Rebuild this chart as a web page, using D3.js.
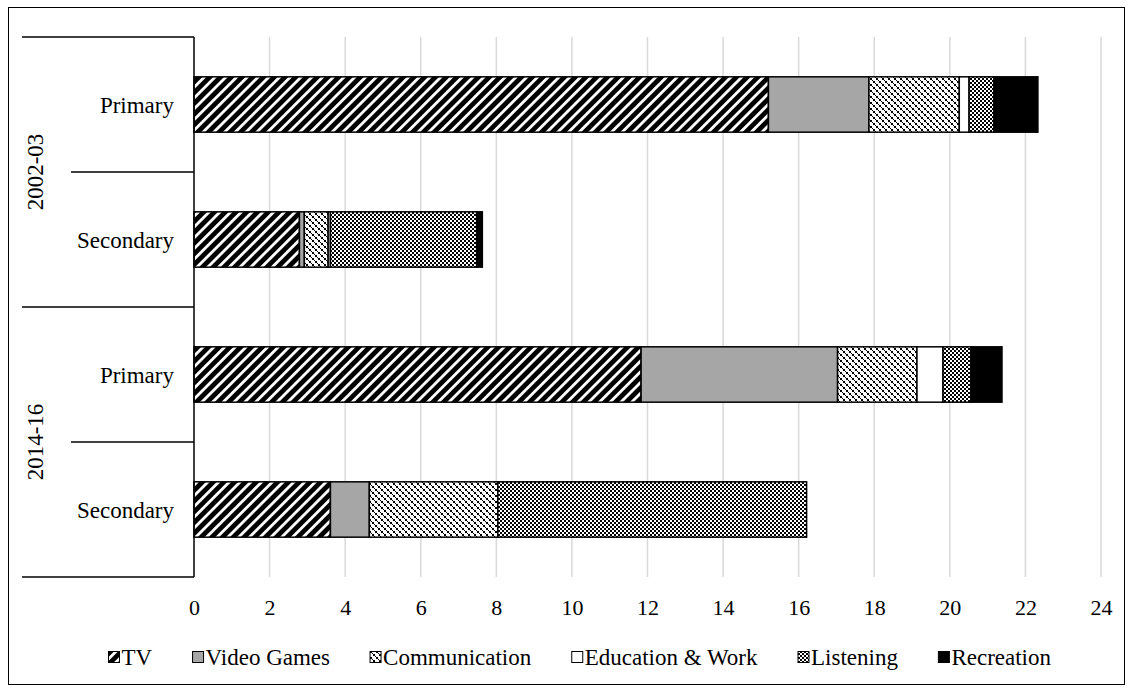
<!DOCTYPE html>
<html>
<head>
<meta charset="utf-8">
<script src="https://cdn.jsdelivr.net/npm/d3@7"></script>
<style>
  html, body { margin: 0; padding: 0; background: #fff; }
  svg { display: block; }
  text { font-family: "Liberation Serif", "Times New Roman", serif; fill: #000; }
</style>
</head>
<body>
<svg id="chart" width="1133" height="692"></svg>
<script>
// Rows, top to bottom
const periods = ["2002-03", "2014-16"];
const levels = ["Primary", "Secondary"];
const rows = ["2002-03|Primary", "2002-03|Secondary", "2014-16|Primary", "2014-16|Secondary"];

// Series values per row (hours)
const seriesNames = ["TV", "Video Games", "Communication", "Education & Work", "Listening", "Recreation"];
const tv            = [15.2, 2.79, 11.83, 3.61];
const videoGames    = [2.66, 0.13, 5.20, 1.03];
const communication = [2.39, 0.63, 2.10, 3.40];
const education     = [0.26, 0.06, 0.69, 0.00];
const listening     = [0.66, 3.87, 0.74, 8.17];
const recreation    = [1.16, 0.15, 0.82, 0.00];

const xTicks = [0, 2, 4, 6, 8, 10, 12, 14, 16, 18, 20, 22, 24];

const seriesValues = [tv, videoGames, communication, education, listening, recreation];
const table = rows.map((r, i) => {
  const o = { row: r };
  seriesNames.forEach((s, j) => { o[s] = seriesValues[j][i]; });
  return o;
});

const svg = d3.select("#chart");
const defs = svg.append("defs");

// Fill patterns
const pTV = defs.append("pattern").attr("id", "p-tv").attr("patternUnits", "userSpaceOnUse")
  .attr("width", 7.6).attr("height", 7.6).attr("patternTransform", "rotate(45)");
pTV.append("rect").attr("width", 7.6).attr("height", 7.6).attr("fill", "#000");
pTV.append("rect").attr("x", 0).attr("width", 2.8).attr("height", 7.6).attr("fill", "#fff");

const pCom = defs.append("pattern").attr("id", "p-com").attr("patternUnits", "userSpaceOnUse")
  .attr("width", 6).attr("height", 6);
pCom.append("rect").attr("width", 6).attr("height", 6).attr("fill", "#fff");
[[0, 0, 2], [3, 3, 2], [2, 2, 1], [5, 5, 1]].forEach(([px, py, s]) => {
  pCom.append("rect").attr("x", px).attr("y", py).attr("width", s).attr("height", s).attr("fill", "#000");
});

const pLis = defs.append("pattern").attr("id", "p-lis").attr("patternUnits", "userSpaceOnUse")
  .attr("width", 4).attr("height", 4);
pLis.append("rect").attr("width", 4).attr("height", 4).attr("fill", "#fff");
pLis.append("rect").attr("x", 0).attr("y", 0).attr("width", 2).attr("height", 2).attr("fill", "#000");
pLis.append("rect").attr("x", 2).attr("y", 2).attr("width", 2).attr("height", 2).attr("fill", "#000");

const fills = {
  "TV": "url(#p-tv)",
  "Video Games": "#a6a6a6",
  "Communication": "url(#p-com)",
  "Education & Work": "#fff",
  "Listening": "url(#p-lis)",
  "Recreation": "#000"
};

// Outer frame
svg.append("rect").attr("x", 8.5).attr("y", 7.5).attr("width", 1116).attr("height", 677)
  .attr("fill", "none").attr("stroke", "#000").attr("stroke-width", 1);

const plot = { left: 194, right: 1101, top: 37, bottom: 577 };

const x = d3.scaleLinear().domain([0, 24]).range([plot.left, plot.right]);
const y = d3.scaleBand().domain(rows).range([plot.top, plot.bottom]).padding(0);
const barH = y.bandwidth() * 0.41;

// Vertical gridlines
svg.append("g").selectAll("line").data(xTicks.filter(t => t > 0)).join("line")
  .attr("x1", d => x(d)).attr("x2", d => x(d))
  .attr("y1", plot.top).attr("y2", plot.bottom)
  .attr("stroke", "#d9d9d9").attr("stroke-width", 1.5);

// X tick labels
const xAxis = d3.axisBottom(x).tickValues(xTicks).tickSize(0).tickPadding(0).tickFormat(d3.format("d"));
const gx = svg.append("g").attr("transform", `translate(0,${plot.bottom + 23})`).call(xAxis);
gx.select(".domain").remove();
gx.selectAll("text").attr("font-size", 22).attr("font-family", "Liberation Serif").attr("dy", "0.35em").attr("y", 7);

// Stacked bars
const stack = d3.stack().keys(seriesNames);
const layers = stack(table);
svg.append("g").selectAll("g").data(layers).join("g")
  .attr("fill", d => fills[d.key])
  .selectAll("rect").data(d => d.filter(p => p[1] - p[0] > 0)).join("rect")
  .attr("x", d => x(d[0]))
  .attr("width", d => x(d[1]) - x(d[0]))
  .attr("y", d => y(d.data.row) + (y.bandwidth() - barH) / 2)
  .attr("height", barH)
  .attr("stroke", "#000").attr("stroke-width", 1.5);

// Category axis line
svg.append("line").attr("x1", plot.left).attr("x2", plot.left)
  .attr("y1", plot.top).attr("y2", plot.bottom).attr("stroke", "#000").attr("stroke-width", 1.5);

// Row separators: long ones around periods, short ones between levels
const rowEdges = rows.map(r => y(r)).concat([plot.bottom]);
svg.append("g").selectAll("line").data(rowEdges).join("line")
  .attr("x1", (d, i) => (i % 2 === 0 ? 22 : 71)).attr("x2", plot.left)
  .attr("y1", d => d).attr("y2", d => d)
  .attr("stroke", "#000").attr("stroke-width", 1.5);

// Level labels
svg.append("g").selectAll("text").data(rows).join("text")
  .attr("x", 174).attr("y", d => y(d) + y.bandwidth() / 2)
  .attr("dy", "0.35em").attr("text-anchor", "end").attr("font-size", 23)
  .text(d => d.split("|")[1]);

// Period labels, rotated
svg.append("g").selectAll("text").data(periods).join("text")
  .attr("transform", (d, i) => {
    const cy = y(d + "|" + levels[0]) + y.bandwidth();
    return `translate(35,${cy}) rotate(-90)`;
  })
  .attr("dy", "0.35em").attr("text-anchor", "middle").attr("font-size", 23)
  .text(d => d);

// Legend
const legendGap = 40;
const legend = svg.append("g").attr("transform", "translate(0,657)");
const items = legend.selectAll("g").data(seriesNames).join("g");
items.append("rect").attr("width", 11).attr("height", 11).attr("y", -5.5)
  .attr("fill", d => fills[d]).attr("stroke", "#000").attr("stroke-width", 1);
items.append("text").attr("x", 13).attr("dy", "0.35em").attr("font-size", 23).text(d => d);
let cursor = 0;
const positions = [];
items.each(function() {
  const w = this.getBBox().width;
  positions.push(cursor);
  cursor += w + legendGap;
});
const total = cursor - legendGap;
const start = 580 - total / 2;
items.attr("transform", (d, i) => `translate(${start + positions[i]},0)`);
</script>
</body>
</html>
